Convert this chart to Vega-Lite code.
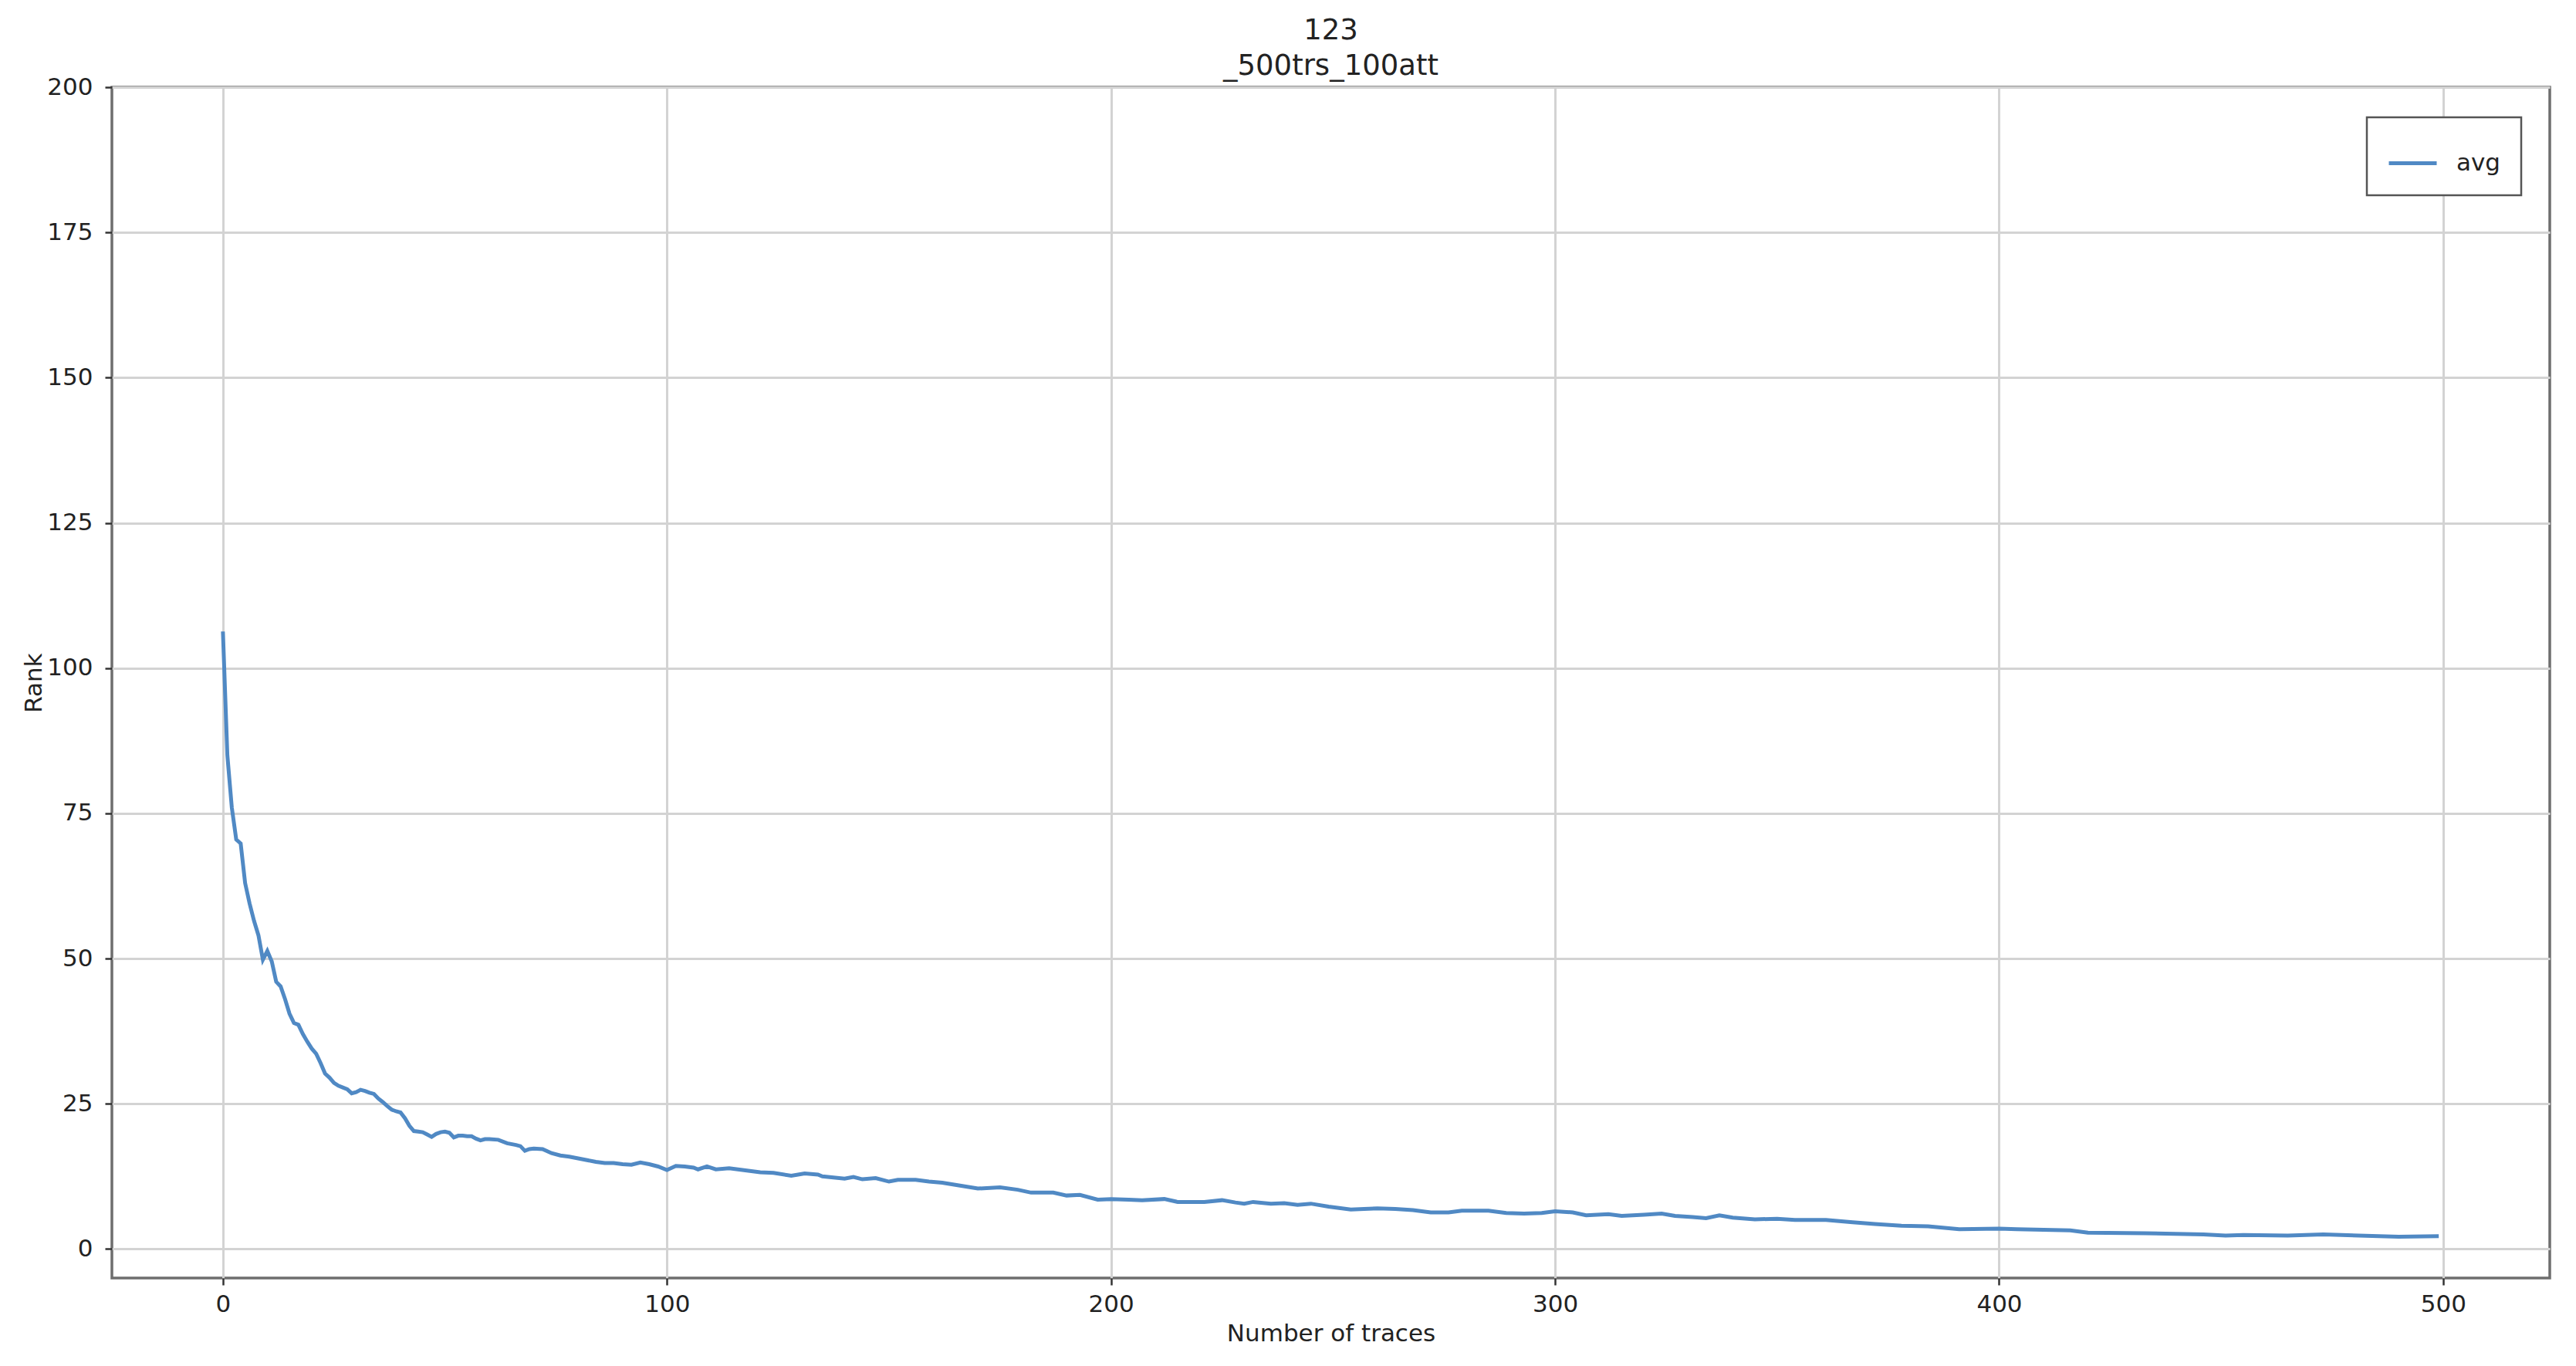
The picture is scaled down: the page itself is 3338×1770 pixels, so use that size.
{
  "$schema": "https://vega.github.io/schema/vega-lite/v6.json",
  "width": 3159,
  "height": 1543,
  "autosize": {"type": "none"},
  "padding": {"left": 145, "top": 113, "right": 34, "bottom": 114},
  "background": "white",
  "title": {
    "text": ["123", "_500trs_100att"],
    "fontSize": 37,
    "font": "DejaVu Sans",
    "fontWeight": "normal",
    "color": "#222222",
    "lineHeight": 46,
    "offset": -8,
    "anchor": "middle"
  },
  "config": {
    "view": {"stroke": "#6e6e6e", "strokeWidth": 3.5},
    "legend": {"strokeWidth": 2.5, "strokeColor": "#555555", "fillColor": "white", "padding": 26, "cornerRadius": 0},
    "axis": {
      "domain": false,
      "grid": true,
      "gridColor": "#d3d3d3",
      "gridWidth": 3,
      "tickColor": "#333333",
      "tickWidth": 2.5,
      "tickSize": 9,
      "labelFont": "DejaVu Sans",
      "labelFontSize": 31,
      "labelColor": "#222222",
      "titleFont": "DejaVu Sans",
      "titleFontSize": 31,
      "titleFontWeight": "normal",
      "titleColor": "#222222"
    }
  },
  "data": {
    "values": [
      {"trace": 0, "rank": 106.3}, {"trace": 1, "rank": 85}, {"trace": 2, "rank": 76}, {"trace": 3, "rank": 70.5},
      {"trace": 4, "rank": 69.8}, {"trace": 5, "rank": 63}, {"trace": 6, "rank": 59.5}, {"trace": 7, "rank": 56.5},
      {"trace": 8, "rank": 54}, {"trace": 9, "rank": 49.8}, {"trace": 10, "rank": 51.3}, {"trace": 11, "rank": 49.5},
      {"trace": 12, "rank": 46}, {"trace": 13, "rank": 45.2}, {"trace": 14, "rank": 43}, {"trace": 15, "rank": 40.5},
      {"trace": 16, "rank": 38.9}, {"trace": 17, "rank": 38.6}, {"trace": 18, "rank": 37}, {"trace": 19, "rank": 35.7},
      {"trace": 20, "rank": 34.5}, {"trace": 21, "rank": 33.6}, {"trace": 22, "rank": 32}, {"trace": 23, "rank": 30.2},
      {"trace": 24, "rank": 29.5}, {"trace": 25, "rank": 28.6}, {"trace": 26, "rank": 28.1}, {"trace": 27, "rank": 27.8},
      {"trace": 28, "rank": 27.5}, {"trace": 29, "rank": 26.8}, {"trace": 30, "rank": 27.0}, {"trace": 31, "rank": 27.4},
      {"trace": 32, "rank": 27.2}, {"trace": 33, "rank": 26.9}, {"trace": 34, "rank": 26.7}, {"trace": 35, "rank": 25.9},
      {"trace": 36, "rank": 25.3}, {"trace": 37, "rank": 24.6}, {"trace": 38, "rank": 24.0}, {"trace": 39, "rank": 23.7},
      {"trace": 40, "rank": 23.5}, {"trace": 41, "rank": 22.5}, {"trace": 42, "rank": 21.2}, {"trace": 43, "rank": 20.3},
      {"trace": 44, "rank": 20.2}, {"trace": 45, "rank": 20.1}, {"trace": 46, "rank": 19.7}, {"trace": 47, "rank": 19.3},
      {"trace": 48, "rank": 19.8}, {"trace": 49, "rank": 20.1}, {"trace": 50, "rank": 20.2}, {"trace": 51, "rank": 20.0},
      {"trace": 52, "rank": 19.2}, {"trace": 53, "rank": 19.5}, {"trace": 54, "rank": 19.5}, {"trace": 55, "rank": 19.4},
      {"trace": 56, "rank": 19.4}, {"trace": 57, "rank": 19.0}, {"trace": 58, "rank": 18.7}, {"trace": 59, "rank": 18.9},
      {"trace": 60, "rank": 18.9}, {"trace": 62, "rank": 18.8}, {"trace": 64, "rank": 18.2}, {"trace": 66, "rank": 17.9},
      {"trace": 67, "rank": 17.7}, {"trace": 68, "rank": 16.9}, {"trace": 69, "rank": 17.2}, {"trace": 70, "rank": 17.3},
      {"trace": 72, "rank": 17.2}, {"trace": 74, "rank": 16.5}, {"trace": 76, "rank": 16.1}, {"trace": 78, "rank": 15.9},
      {"trace": 80, "rank": 15.6}, {"trace": 82, "rank": 15.3}, {"trace": 84, "rank": 15.0}, {"trace": 86, "rank": 14.8},
      {"trace": 88, "rank": 14.8}, {"trace": 90, "rank": 14.6}, {"trace": 92, "rank": 14.5}, {"trace": 94, "rank": 14.9},
      {"trace": 96, "rank": 14.6}, {"trace": 98, "rank": 14.2}, {"trace": 100, "rank": 13.6}, {"trace": 102, "rank": 14.3},
      {"trace": 104, "rank": 14.2}, {"trace": 106, "rank": 14.0}, {"trace": 107, "rank": 13.7}, {"trace": 109, "rank": 14.2},
      {"trace": 111, "rank": 13.7}, {"trace": 114, "rank": 13.9}, {"trace": 117, "rank": 13.6}, {"trace": 121, "rank": 13.2},
      {"trace": 124, "rank": 13.1}, {"trace": 128, "rank": 12.6}, {"trace": 131, "rank": 13.0}, {"trace": 134, "rank": 12.8},
      {"trace": 135, "rank": 12.5}, {"trace": 140, "rank": 12.1}, {"trace": 142, "rank": 12.4}, {"trace": 144, "rank": 12.0},
      {"trace": 147, "rank": 12.2}, {"trace": 150, "rank": 11.6}, {"trace": 152, "rank": 11.9}, {"trace": 156, "rank": 11.9},
      {"trace": 159, "rank": 11.6}, {"trace": 162, "rank": 11.4}, {"trace": 166, "rank": 10.9}, {"trace": 170, "rank": 10.4},
      {"trace": 175, "rank": 10.6}, {"trace": 179, "rank": 10.2}, {"trace": 182, "rank": 9.7}, {"trace": 187, "rank": 9.7},
      {"trace": 190, "rank": 9.2}, {"trace": 193, "rank": 9.3}, {"trace": 197, "rank": 8.5}, {"trace": 200, "rank": 8.6},
      {"trace": 204, "rank": 8.5}, {"trace": 207, "rank": 8.4}, {"trace": 212, "rank": 8.6}, {"trace": 215, "rank": 8.1},
      {"trace": 221, "rank": 8.1}, {"trace": 225, "rank": 8.4}, {"trace": 228, "rank": 8.0}, {"trace": 230, "rank": 7.8},
      {"trace": 232, "rank": 8.1}, {"trace": 236, "rank": 7.8}, {"trace": 239, "rank": 7.9}, {"trace": 242, "rank": 7.6},
      {"trace": 245, "rank": 7.8}, {"trace": 249, "rank": 7.3}, {"trace": 254, "rank": 6.8}, {"trace": 257, "rank": 6.9},
      {"trace": 260, "rank": 7.0}, {"trace": 264, "rank": 6.9}, {"trace": 268, "rank": 6.7}, {"trace": 272, "rank": 6.3},
      {"trace": 276, "rank": 6.3}, {"trace": 279, "rank": 6.6}, {"trace": 285, "rank": 6.6}, {"trace": 289, "rank": 6.2},
      {"trace": 293, "rank": 6.1}, {"trace": 297, "rank": 6.2}, {"trace": 300, "rank": 6.5}, {"trace": 304, "rank": 6.3},
      {"trace": 307, "rank": 5.8}, {"trace": 312, "rank": 6.0}, {"trace": 315, "rank": 5.7}, {"trace": 320, "rank": 5.9},
      {"trace": 324, "rank": 6.1}, {"trace": 327, "rank": 5.7}, {"trace": 331, "rank": 5.5}, {"trace": 334, "rank": 5.3},
      {"trace": 337, "rank": 5.8}, {"trace": 340, "rank": 5.4}, {"trace": 345, "rank": 5.1}, {"trace": 350, "rank": 5.2},
      {"trace": 354, "rank": 5.0}, {"trace": 361, "rank": 5.0}, {"trace": 367, "rank": 4.6}, {"trace": 372, "rank": 4.3},
      {"trace": 378, "rank": 4.0}, {"trace": 384, "rank": 3.9}, {"trace": 391, "rank": 3.4}, {"trace": 400, "rank": 3.5},
      {"trace": 404, "rank": 3.4}, {"trace": 416, "rank": 3.2}, {"trace": 420, "rank": 2.8}, {"trace": 433, "rank": 2.7},
      {"trace": 446, "rank": 2.5}, {"trace": 451, "rank": 2.3}, {"trace": 455, "rank": 2.4}, {"trace": 465, "rank": 2.3},
      {"trace": 473, "rank": 2.5}, {"trace": 481, "rank": 2.3}, {"trace": 490, "rank": 2.1}, {"trace": 499, "rank": 2.2}
    ]
  },
  "mark": {"type": "line", "strokeWidth": 5, "interpolate": "linear"},
  "encoding": {
    "x": {
      "field": "trace",
      "type": "quantitative",
      "scale": {"domain": [-25, 524], "nice": false, "zero": false},
      "axis": {
        "title": "Number of traces",
        "values": [0, 100, 200, 300, 400, 500],
        "labelPadding": 10,
        "titleBaseline": "alphabetic",
        "titleY": 81
      }
    },
    "y": {
      "field": "rank",
      "type": "quantitative",
      "scale": {"domain": [-5, 200], "nice": false, "zero": false},
      "axis": {
        "title": "Rank",
        "values": [0, 25, 50, 75, 100, 125, 150, 175, 200],
        "labelPadding": 16,
        "titleBaseline": "alphabetic",
        "titleX": -92
      }
    },
    "color": {
      "datum": "avg",
      "scale": {"range": ["#5089c4"]},
      "legend": {
        "title": null,
        "orient": "none",
        "legendX": 2922,
        "legendY": 39,
        "symbolType": "stroke",
        "symbolSize": 3844,
        "symbolStrokeWidth": 5,
        "labelFont": "DejaVu Sans",
        "labelFontSize": 31,
        "labelColor": "#222222",
        "labelOffset": 23
      }
    }
  }
}
